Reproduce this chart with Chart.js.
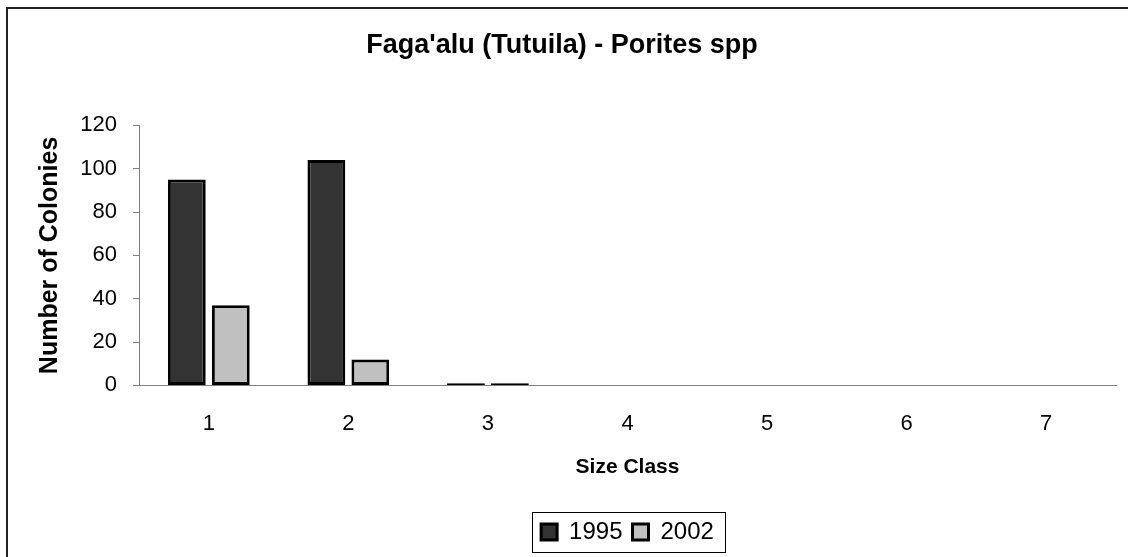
<!DOCTYPE html>
<html lang="en">
<head>
    <meta charset="UTF-8">
    <title>Faga'alu (Tutuila) - Porites spp</title>
    <script src="https://cdn.jsdelivr.net/npm/chart.js"></script>
    <style>
        html, body {
            margin: 0;
            padding: 0;
            background: #fff;
            overflow: hidden;
        }
        #chartContainer {
            position: relative;
            width: 1128px;
            height: 557px;
        }
    </style>
</head>
<body>
    <div id="chartContainer">
        <canvas id="sizeChart"></canvas>
    </div>

    <script>
        const sizeClasses = ['1', '2', '3', '4', '5', '6', '7'];
        const colonies1995 = [95, 104, 1, 0, 0, 0, 0];
        const colonies2002 = [37, 12, 1, 0, 0, 0, 0];

        Chart.defaults.font.family = "'Liberation Sans', Arial, sans-serif";
        Chart.defaults.color = '#000';

        // outer chart frame + box around the legend
        const chartFrame = {
            id: 'chartFrame',
            beforeDraw(chart) {
                const ctx = chart.ctx;
                ctx.save();
                ctx.strokeStyle = '#222';
                ctx.lineWidth = 2;
                ctx.beginPath();
                ctx.moveTo(7, chart.height + 2);
                ctx.lineTo(7, 8);
                ctx.lineTo(chart.width + 2, 8);
                ctx.stroke();
                ctx.restore();
            },
            afterDraw(chart) {
                const lg = chart.legend;
                if (!lg || !lg.legendHitBoxes.length) return;
                const boxes = lg.legendHitBoxes;
                const first = boxes[0];
                const last = boxes[boxes.length - 1];
                const ctx = chart.ctx;
                ctx.save();
                ctx.strokeStyle = '#000';
                ctx.lineWidth = 1;
                const x1 = Math.round(first.left - 9) + 0.5;
                const x2 = Math.round(last.left + last.width + 11) + 0.5;
                const y1 = Math.round(first.top - 8) + 0.5;
                const y2 = Math.round(first.top + first.height + 8) + 0.5;
                ctx.strokeRect(x1, y1, x2 - x1, y2 - y1);
                ctx.restore();
            }
        };

        new Chart(document.getElementById('sizeChart'), {
            type: 'bar',
            data: {
                labels: sizeClasses,
                datasets: [
                    {
                        label: '1995',
                        data: colonies1995,
                        backgroundColor: '#333333',
                        borderColor: '#000',
                        borderWidth: 3,
                        borderSkipped: false
                    },
                    {
                        label: '2002',
                        data: colonies2002,
                        backgroundColor: '#c0c0c0',
                        borderColor: '#000',
                        borderWidth: 3,
                        borderSkipped: false
                    }
                ]
            },
            options: {
                responsive: true,
                maintainAspectRatio: false,
                animation: false,
                categoryPercentage: 0.63,
                barPercentage: 0.86,
                layout: {
                    padding: { left: 8, right: 12, top: 0, bottom: 3 }
                },
                plugins: {
                    title: {
                        display: true,
                        text: "Faga'alu (Tutuila) - Porites spp",
                        font: { size: 27, weight: 'bold' },
                        color: '#000',
                        padding: { top: 29, bottom: 64 }
                    },
                    legend: {
                        position: 'bottom',
                        fullSize: false,
                        labels: {
                            boxWidth: 16,
                            boxHeight: 16,
                            font: { size: 24 },
                            color: '#000',
                            padding: 10
                        }
                    },
                    tooltip: { enabled: false }
                },
                scales: {
                    x: {
                        grid: { display: false, drawTicks: false },
                        border: { display: true, color: '#808080', width: 1 },
                        ticks: { font: { size: 22 }, color: '#000', padding: 25 },
                        title: {
                            display: true,
                            text: 'Size Class',
                            font: { size: 21, weight: 'bold' },
                            color: '#000',
                            padding: { top: -7, bottom: 30 }
                        }
                    },
                    y: {
                        min: 0,
                        max: 120,
                        afterFit(scale) {
                            scale.width = 131;
                        },
                        ticks: { stepSize: 20, font: { size: 22 }, color: '#000', padding: 16 },
                        grid: { drawOnChartArea: false, drawTicks: true, tickLength: 6, color: '#808080' },
                        border: { display: true, color: '#808080', width: 1 },
                        title: {
                            display: true,
                            text: 'Number of Colonies',
                            font: { size: 25, weight: 'bold' },
                            color: '#000',
                            padding: { top: 27, bottom: 0 }
                        }
                    }
                }
            },
            plugins: [chartFrame]
        });
    </script>
</body>
</html>
